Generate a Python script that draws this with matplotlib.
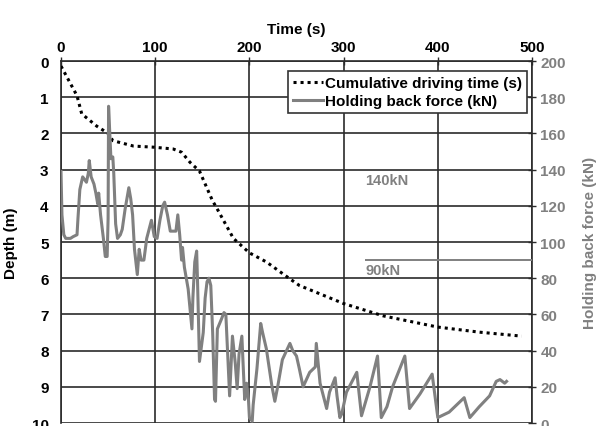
import matplotlib
matplotlib.use("Agg")
import matplotlib.pyplot as plt
from matplotlib.lines import Line2D

plt.rcParams['font.family'] = ['Liberation Sans', 'DejaVu Sans']

# Cumulative driving time (s) vs depth (m)
drive_time = [0, 17, 22, 38, 50, 55, 77, 98, 119, 128, 137, 147, 161, 164, 183, 200,
              218, 242, 253, 300, 342, 400, 444, 489]
drive_depth = [0.14, 0.96, 1.46, 1.8, 2.0, 2.2, 2.35, 2.38, 2.43, 2.52, 2.8, 3.04, 3.87,
               4.0, 4.9, 5.3, 5.55, 6.0, 6.2, 6.7, 7.04, 7.35, 7.49, 7.6]

# Holding back force (kN), plotted against the time axis
force_x = [0, 1, 3, 5, 10, 13, 17, 18, 20, 23, 27, 29, 30, 32, 35, 37, 39, 40, 42, 45, 47, 49,
           50, 50.5, 52, 53, 55, 56, 58, 60, 63, 65, 68, 70, 72, 74, 76, 78, 81, 83, 85, 88,
           91, 94, 96, 99, 102, 105, 108, 110, 113, 116, 122, 124, 126, 128, 129, 131, 135,
           138, 139, 140, 142, 144, 145, 147, 151, 153, 155, 157, 159, 161, 163, 164, 166,
           170, 173, 175, 177, 179, 182, 185, 187, 189, 192, 194, 195, 197, 199, 200, 203,
           204, 208, 212, 214, 218, 224, 227, 230, 235, 243, 246, 250, 253, 257, 264, 270,
           271, 275, 282, 285, 291, 293, 296, 298, 303, 314, 319, 328, 336, 340, 346, 352,
           365, 370, 381, 394, 400, 412, 428, 434, 444, 455, 462, 466, 471, 473]
force_kn = [139, 115, 104, 102, 102, 103, 104, 113, 129, 136, 133, 138, 145, 136, 132, 127,
            121, 127, 115, 102, 92, 92, 113, 175, 157, 146, 147, 138, 110, 102, 104, 107, 118,
            124, 130, 124, 115, 96, 82, 96, 90, 90, 102, 108, 112, 103, 102, 112, 120, 122,
            115, 106, 106, 115, 104, 90, 97, 86, 74, 57, 52, 69, 89, 95, 77, 34, 50, 69, 78,
            80, 76, 50, 13, 12, 52, 57, 61, 60, 38, 15, 48, 33, 19, 38, 48, 24, 13, 22, 13,
            3, 1, 10, 30, 55, 50, 41, 20, 12, 20, 35, 44, 40, 37, 30, 20, 28, 31, 44, 22, 8,
            17, 25, 15, 3, 5, 17, 28, 4, 20, 37, 3, 9, 20, 37, 8, 16, 27, 3, 6, 14, 3, 9, 15,
            23, 24, 22, 23]

time_ticks = [0, 100, 200, 300, 400, 500]
depth_ticks = list(range(0, 11))
force_ticks = list(range(0, 201, 20))
limit_90 = 90
limit_140 = 140

fs = 11
fig = plt.figure(figsize=(6.01, 4.27), dpi=100)
ax = fig.add_axes([0.1015, 0.007, 0.7837, 0.8478])
ax2 = ax.twinx()

grid_c = '#2b2b2b'
ax.set_xlim(0, 500)
ax.set_ylim(10, 0)
ax.set_xticks(time_ticks)
ax.set_yticks(depth_ticks)
ax.grid(True, color=grid_c, linewidth=1.2)
ax.set_axisbelow(True)
ax.xaxis.tick_top()
ax.xaxis.set_label_position('top')
ax.tick_params(axis='x', direction='inout', length=6, width=1, colors=grid_c, labelcolor='black',
               labelsize=fs, pad=2)
ax.tick_params(axis='y', length=0, labelsize=fs, pad=9)
for lab in ax.get_xticklabels() + ax.get_yticklabels():
    lab.set_fontweight('bold')
ax.set_xlabel('Time (s)', fontsize=fs, fontweight='bold', labelpad=5)
ax.set_ylabel('Depth (m)', fontsize=fs, fontweight='bold', labelpad=10)
for s in ax.spines.values():
    s.set_color(grid_c)
    s.set_linewidth(1.2)
ax.spines['bottom'].set_visible(False)

ax2.set_ylim(0, 200)
ax2.set_yticks(force_ticks)
gray = '#808080'
ax2.tick_params(axis='y', direction='inout', length=6, width=1, colors=grid_c, labelcolor=gray,
                labelsize=fs, pad=3)
for lab in ax2.get_yticklabels():
    lab.set_fontweight('bold')
ax2.set_ylabel('Holding back force (kN)', fontsize=fs, fontweight='bold', color=gray, labelpad=12)
for s in ax2.spines.values():
    s.set_visible(False)

ax2.plot(force_x, force_kn, color=gray, linewidth=2.2, zorder=3)
ax2.hlines(limit_90, 323, 500, color=gray, linewidth=1.4, zorder=2)
ax2.text(323, limit_140 - 6, '140kN', color=gray, fontsize=10.5, fontweight='bold', va='center', ha='left')
ax2.text(323, limit_90 - 5.5, '90kN', color=gray, fontsize=10.5, fontweight='bold', va='center', ha='left')

ax.plot(drive_time, drive_depth, color='black', linestyle=(0, (1, 1.3)), linewidth=2.2,
        zorder=4)

handles = [Line2D([], [], color='black', linestyle=(0, (1, 1.3)), linewidth=2.2),
           Line2D([], [], color=gray, linewidth=2.2)]
leg = ax2.legend(handles, ['Cumulative driving time (s)', 'Holding back force (kN)'],
                 loc='upper right', bbox_to_anchor=(0.995, 0.98), frameon=True, fancybox=False,
                 framealpha=1, edgecolor='#333333', prop={'weight': 'bold', 'size': fs},
                 handlelength=2.0, handletextpad=0.1, borderpad=0.3, labelspacing=0.3,
                 borderaxespad=0.2)
leg.get_frame().set_linewidth(1.2)
leg.set_zorder(10)

fig.savefig('out.png', dpi=100)
